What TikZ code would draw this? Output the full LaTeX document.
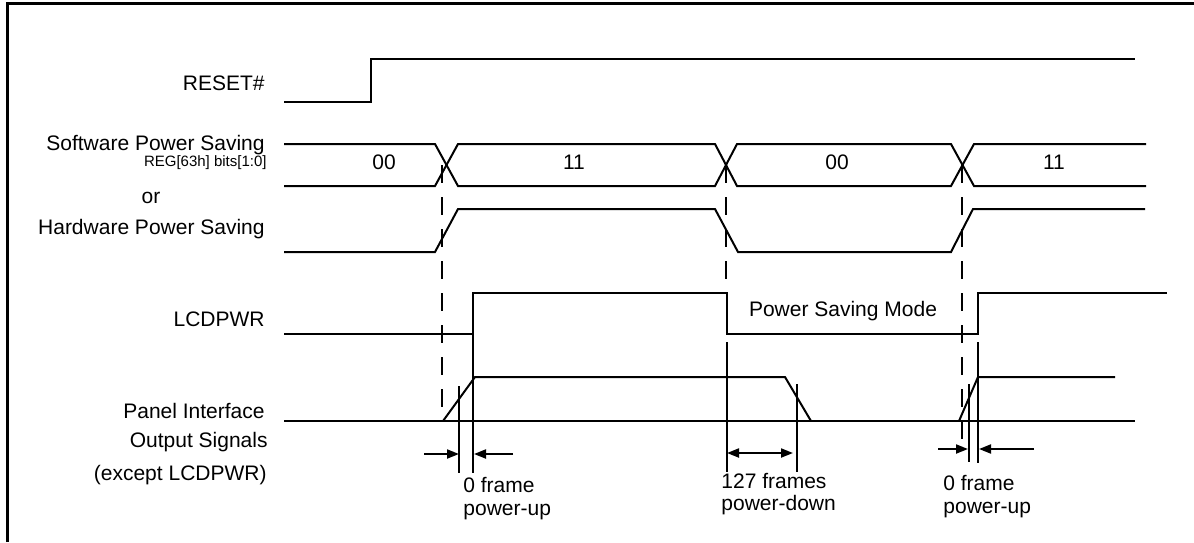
\documentclass[tikz,border=0pt]{standalone}
\usepackage{fontspec}
\setmainfont{Liberation Sans}
\usetikzlibrary{arrows.meta}

\begin{document}
\begin{tikzpicture}[x=0.5pt,y=-0.5pt,
  lbl/.style={anchor=base east,inner sep=0pt,font=\fontsize{10.5}{12}\selectfont},
  txt/.style={anchor=base west,inner sep=0pt,font=\fontsize{10.5}{12}\selectfont},
  sig/.style={line width=1pt},
  guide/.style={line width=1pt,dash pattern=on 9pt off 7pt},
  tip/.style={line width=1pt,-{Triangle[length=6pt,width=4.5pt]}}]

\useasboundingbox (0,0) rectangle (1194,542);

% frame
\draw[line width=1.5pt] (7,542)--(7,3)--(1194,3);

% signal names
\node [lbl] (reset) at (265,90) {RESET\#};
\node [lbl] (sw) at (265,150) {Software Power Saving};
\node [lbl,font=\fontsize{7.5}{9}\selectfont] (reg) at (267,166) {REG[63h] bits[1:0]};
\node [anchor=base,inner sep=0pt,font=\fontsize{10.5}{12}\selectfont] (or) at (151,203) {or};
\node [lbl] (hw) at (265,234) {Hardware Power Saving};
\node [lbl] (lcd) at (265,326) {LCDPWR};
\node [lbl] (pnl) at (265,418) {Panel Interface};
\node [lbl] (out) at (268,447) {Output Signals};
\node [lbl] (exc) at (267,480) {(except LCDPWR)};

% RESET#
\draw[sig] (284,102)--(371,102)--(371,59)--(1135,59);

% power saving bits
\draw[sig] (284,144)--(435,144)--(458,186)--(715,186)--(737,144)--(951,144)--(974,186)--(1146,186);
\draw[sig] (284,186)--(435,186)--(458,144)--(715,144)--(737,186)--(951,186)--(974,144)--(1146,144);
\node [font=\fontsize{10.5}{12}\selectfont] (b1) at (384,162) {00};
\node [font=\fontsize{10.5}{12}\selectfont] (b2) at (574,162) {11};
\node [font=\fontsize{10.5}{12}\selectfont] (b3) at (837,162) {00};
\node [font=\fontsize{10.5}{12}\selectfont] (b4) at (1054,162) {11};

% hardware power saving
\draw[sig] (284,252)--(435,252)--(458,209)--(715,209)--(738,252)--(951,252)--(973,209)--(1145,209);

% LCDPWR
\draw[sig] (284,334)--(473,334)--(473,293)--(727,293)--(727,334)--(978,334)--(978,293)--(1167,293);
\node [font=\fontsize{10.5}{12}\selectfont] (psm) at (843,311) {Power Saving Mode};

% panel outputs
\draw[sig] (284,421)--(1135,421);
\draw[sig] (443,421)--(475,377)--(785,377)--(811,421);
\draw[sig] (959,421)--(978,377)--(1115,377);

% dashed guides
\draw[guide] (442,165)--(442,408);
\draw[guide] (726,165)--(726,292);
\draw[guide] (962,165)--(962,440);

% extension lines
\draw[sig] (473,334)--(473,473);
\draw[sig] (459,386)--(459,473);
\draw[sig] (727,342)--(727,472);
\draw[sig] (797,384)--(797,472);
\draw[sig] (969,384)--(969,462);
\draw[sig] (978,342)--(978,463);

% timing arrows
\draw[tip] (424,454)--(459,454);
\draw[tip] (513,454)--(474,454);
\draw[tip,{Triangle[length=6pt,width=4.5pt]}-{Triangle[length=6pt,width=4.5pt]}] (727,453)--(793,453);
\draw[tip] (938,449)--(968,449);
\draw[tip] (1034,449)--(979,449);

\node [txt] (f1) at (463,492) {0 frame};
\node [txt] (p1) at (463,515) {power-up};
\node [txt] (f2) at (721,488) {127 frames};
\node [txt] (p2) at (721,510) {power-down};
\node [txt] (f3) at (943,490) {0 frame};
\node [txt] (p3) at (943,513) {power-up};

\end{tikzpicture}
\end{document}
